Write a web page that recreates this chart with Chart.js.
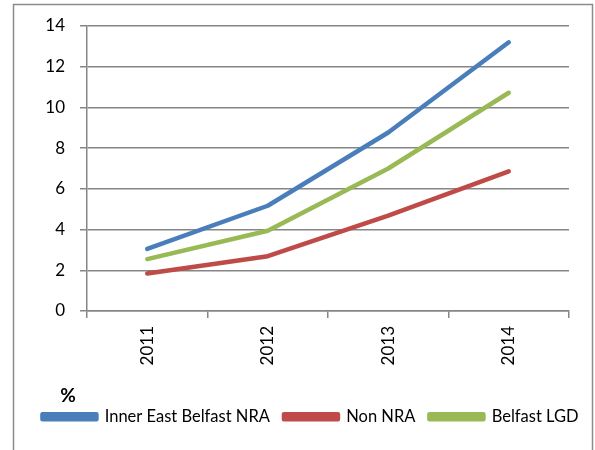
<!DOCTYPE html>
<html lang="en">
<head>
    <meta charset="UTF-8">
    <title>Belfast chart</title>
    <script src="https://cdn.jsdelivr.net/npm/chart.js"></script>
    <style>
        html, body { margin: 0; padding: 0; background: #fff; }
    </style>
</head>
<body>
    <canvas id="chart" width="595" height="450"></canvas>

    <script>
        // data
        const years = ['2011', '2012', '2013', '2014'];
        const innerEast = [3.05, 5.17, 8.77, 13.2];
        const nonNra = [1.84, 2.69, 4.68, 6.86];
        const belfastLgd = [2.55, 3.94, 7.0, 10.72];
        const yTicks = [0, 2, 4, 6, 8, 10, 12, 14];

        const fontFamily = 'Lato, "Liberation Sans", sans-serif';
        const gridColor = '#868686';

        // outer frame, "%" caption, and nudge the legend a bit to the right
        const framePlugin = {
            id: 'frame',
            afterLayout(chart) {
                if (chart.legend) {
                    chart.legend.left += 26;
                    chart.legend.right += 26;
                }
            },
            beforeDraw(chart) {
                const ctx = chart.ctx;
                ctx.save();
                ctx.fillStyle = '#fff';
                ctx.fillRect(0, 0, chart.width, chart.height);
                ctx.strokeStyle = '#8c8c8c';
                ctx.lineWidth = 1.5;
                ctx.strokeRect(13.5, 4.5, 579, 470);
                ctx.restore();
            },
            afterDraw(chart) {
                const ctx = chart.ctx;
                ctx.save();
                ctx.fillStyle = '#000';
                ctx.font = 'bold 19px ' + fontFamily;
                ctx.textAlign = 'center';
                ctx.textBaseline = 'middle';
                ctx.fillText('%', 68, 396);
                ctx.restore();
            }
        };

        function line(label, data, color) {
            return {
                label: label,
                data: data,
                borderColor: color,
                backgroundColor: color,
                borderWidth: 4.5,
                pointRadius: 0,
                borderCapStyle: 'round',
                borderJoinStyle: 'round',
                tension: 0
            };
        }

        new Chart(document.getElementById('chart'), {
            type: 'line',
            data: {
                labels: years,
                datasets: [
                    line('Inner East Belfast NRA', innerEast, '#4a7ebb'),
                    line('Non NRA', nonNra, '#be4b48'),
                    line('Belfast LGD', belfastLgd, '#98b954')
                ]
            },
            options: {
                responsive: false,
                animation: false,
                layout: { padding: { left: 0, right: 26, top: 26, bottom: 15 } },
                plugins: {
                    tooltip: { enabled: false },
                    legend: {
                        position: 'bottom',
                        labels: {
                            color: '#000',
                            font: { family: fontFamily, size: 16.5 },
                            boxWidth: 54,
                            boxHeight: 5,
                            padding: 14
                        }
                    }
                },
                scales: {
                    x: {
                        offset: true,
                        grid: {
                            offset: true,
                            drawOnChartArea: false,
                            drawTicks: true,
                            tickLength: 7,
                            color: gridColor,
                            lineWidth: 1.5
                        },
                        border: { color: gridColor, width: 1.5 },
                        ticks: {
                            color: '#000',
                            font: { family: fontFamily, size: 17 },
                            maxRotation: 90,
                            minRotation: 90,
                            padding: 8
                        },
                        afterFit(scale) { scale.height = 83.5; }
                    },
                    y: {
                        min: 0,
                        max: 14,
                        afterBuildTicks(scale) {
                            scale.ticks = yTicks.map(v => ({ value: v }));
                        },
                        grid: {
                            color: gridColor,
                            lineWidth: 1.5,
                            tickLength: 7
                        },
                        border: { color: gridColor, width: 1.5 },
                        ticks: {
                            color: '#000',
                            font: { family: fontFamily, size: 17 },
                            padding: 15
                        },
                        afterFit(scale) { scale.width = 87; }
                    }
                }
            },
            plugins: [framePlugin]
        });
    </script>
</body>
</html>
